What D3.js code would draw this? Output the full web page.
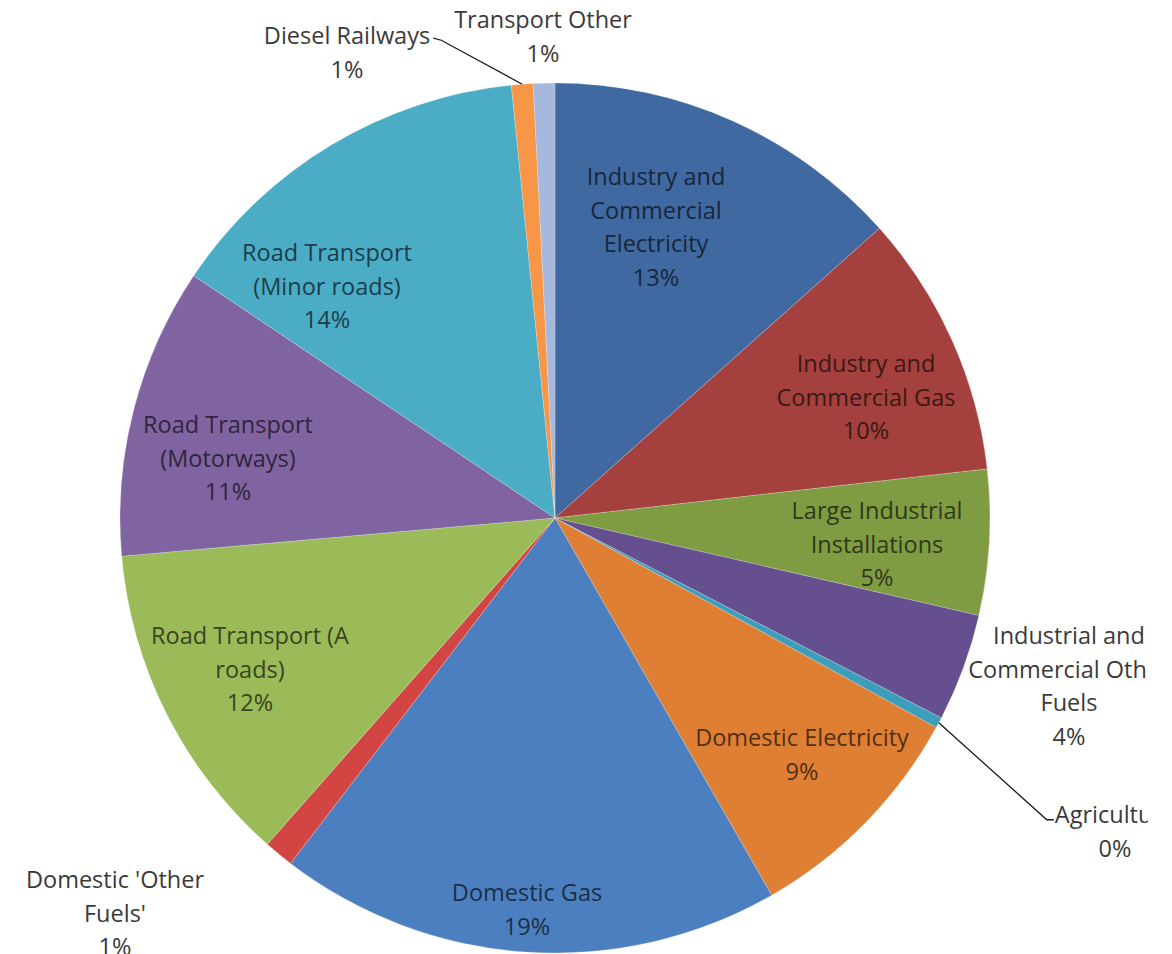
<!DOCTYPE html>
<html>
<head>
<meta charset="utf-8">
<script src="https://cdn.jsdelivr.net/npm/d3@7"></script>
<style>
  body { margin: 0; background: #fff; }
  svg { display: block; }
</style>
</head>
<body>
<div class="figure"></div>
<script>
// categories and shares (% of total), clockwise from 12 o'clock
const categories = [
  "Industry and Commercial Electricity",
  "Industry and Commercial Gas",
  "Large Industrial Installations",
  "Industrial and Commercial Other Fuels",
  "Agriculture",
  "Domestic Electricity",
  "Domestic Gas",
  "Domestic 'Other Fuels'",
  "Road Transport (A roads)",
  "Road Transport (Motorways)",
  "Road Transport (Minor roads)",
  "Diesel Railways",
  "Transport Other"
]
const shares = [13.4, 9.8, 5.4, 4.0, 0.4, 8.7, 18.7, 1.1, 12.1, 10.8, 14.0, 0.8, 0.8]

// how each label is broken into lines (as in the picture)
const labelLines = [
  ["Industry and", "Commercial", "Electricity"],
  ["Industry and", "Commercial Gas"],
  ["Large Industrial", "Installations"],
  ["Industrial and", "Commercial Other", "Fuels"],
  ["Agriculture"],
  ["Domestic Electricity"],
  ["Domestic Gas"],
  ["Domestic 'Other", "Fuels'"],
  ["Road Transport (A", "roads)"],
  ["Road Transport", "(Motorways)"],
  ["Road Transport", "(Minor roads)"],
  ["Diesel Railways"],
  ["Transport Other"]
]

const colors = ["#3F69A0", "#A4403D", "#7F9C43", "#664F8F", "#3C9EBB", "#DE7F34",
                "#4B7FBF", "#D34543", "#9BBB59", "#8064A2", "#4BACC6", "#F79646", "#A6B9DC"]

const width = 1172
const height = 954
const cx = 555, cy = 518, radius = 435

// label anchors relative to the pie centre (first line), plus leader lines
const labelAt = [
  [101, -341], [311, -154], [322, -7], [514, 118], [560, 297], [247, 220],
  [-28, 375], [-440, 362], [-305, 118], [-327, -93], [-228, -265], [-208, -482], [-12, -498]
]
const inside = [true, true, true, false, false, true, true, false, true, true, true, false, false]
const leaders = {
  4: [[0, 0], [108, 97], [115, 97]],   // relative to slice edge point
  11: [[0, 0], [-81, -44], [-89, -46]]
}

const svg = d3.select(".figure").append("svg")
  .attr("width", width)
  .attr("height", height)
  .style("font-family", "'Open Sans', Lato, sans-serif")

svg.append("clipPath").attr("id", "crop")
  .append("rect").attr("x", 0).attr("y", 0).attr("width", 1148).attr("height", height)

const g = svg.append("g")
  .attr("clip-path", "url(#crop)")
  .append("g")
  .attr("transform", `translate(${cx},${cy})`)

const total = d3.sum(shares)
const pie = d3.pie().sort(null).value(d => d)
const arcs = pie(shares)
const arc = d3.arc().innerRadius(0).outerRadius(radius)

g.selectAll("path.slice")
  .data(arcs)
  .join("path")
  .attr("class", "slice")
  .attr("d", arc)
  .attr("fill", (d, i) => colors[i])
  .attr("stroke", "rgba(255,255,255,0.35)")
  .attr("stroke-width", 0.6)

// leader lines for the thin slices
Object.keys(leaders).forEach(k => {
  const a = arcs[k]
  const mid = (a.startAngle + a.endAngle) / 2
  const ex = Math.sin(mid) * radius
  const ey = -Math.cos(mid) * radius
  g.append("path")
    .attr("d", d3.line()(leaders[k].map(p => [ex + p[0], ey + p[1]])))
    .attr("fill", "none")
    .attr("stroke", "#1a1a1a")
    .attr("stroke-width", 1.3)
})

const lineH = 33.5
arcs.forEach((a, i) => {
  const lines = labelLines[i].concat([Math.round(a.value / total * 100) + "%"])
  const txt = g.append("text")
    .attr("text-anchor", "middle")
    .attr("font-size", 23.5)
    .attr("fill", inside[i] ? d3.color(colors[i]).darker(2.8) : "#3a3a3a")
  lines.forEach((l, j) => {
    txt.append("tspan")
      .attr("x", labelAt[i][0])
      .attr("y", labelAt[i][1] + j * lineH)
      .attr("dy", "0.35em")
      .text(l)
  })
})
</script>
</body>
</html>
